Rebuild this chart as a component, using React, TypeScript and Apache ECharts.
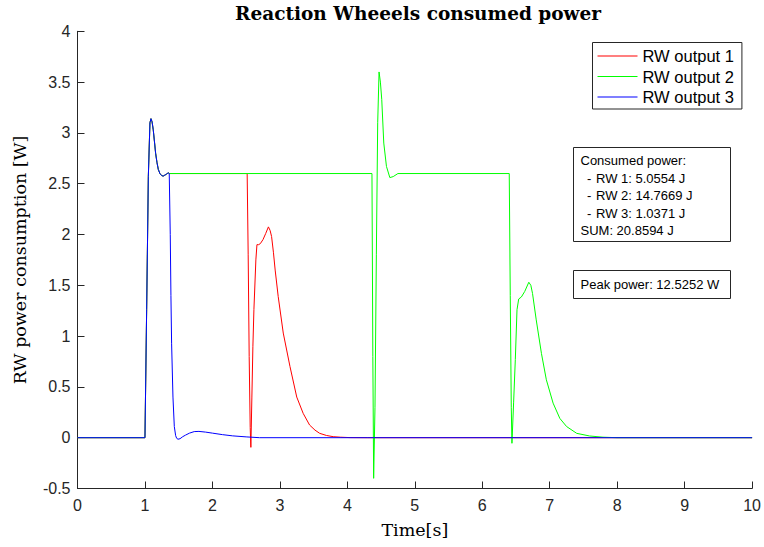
import React, { useEffect, useRef } from "react";
import * as echarts from "echarts";

// Shared start-up transient (all three wheels identical until ~1.36 s)
const startT = [0, 1.0, 1.025, 1.05, 1.074, 1.089, 1.105, 1.123, 1.14, 1.158, 1.178, 1.198, 1.222, 1.247, 1.27, 1.296, 1.32, 1.345, 1.36];
const startP = [0, 0, 1.26, 2.57, 3.1, 3.14, 3.11, 3.03, 2.92, 2.8, 2.71, 2.64, 2.6, 2.58, 2.575, 2.585, 2.595, 2.607, 2.6];

// RW output 1 (red)
const rw1T = [2.515, 2.53, 2.545, 2.56, 2.57, 2.585, 2.6, 2.615, 2.644, 2.66, 2.685, 2.71, 2.75, 2.79, 2.83, 2.855, 2.877, 2.905, 2.93, 2.975, 3.05, 3.15, 3.25, 3.345, 3.44, 3.52, 3.59, 3.69, 3.79, 3.9, 4.04, 4.3, 10];
const rw1P = [2.6, 1.8, 0.8, 0.1, -0.095, 0.4, 0.9, 1.26, 1.75, 1.9, 1.9, 1.91, 1.95, 2.01, 2.075, 2.04, 1.98, 1.82, 1.65, 1.39, 1.03, 0.7, 0.4, 0.24, 0.125, 0.075, 0.043, 0.022, 0.01, 0.005, 0.001, 0, 0];

// RW output 2 (green)
const rw2T = [4.365, 4.378, 4.39, 4.41, 4.43, 4.45, 4.47, 4.49, 4.51, 4.54, 4.58, 4.63, 4.68, 4.75, 6.4, 6.415, 6.43, 6.44, 6.465, 6.49, 6.515, 6.54, 6.58, 6.63, 6.69, 6.72, 6.745, 6.8, 6.877, 6.95, 7.05, 7.15, 7.25, 7.4, 7.59, 7.79, 8.0, 10];
const rw2P = [2.6, 0.8, -0.4, 0.3, 1.8, 3.1, 3.6, 3.5, 3.33, 2.9, 2.67, 2.56, 2.57, 2.6, 2.6, 1.4, 0.3, -0.055, 0.35, 0.77, 1.26, 1.365, 1.385, 1.44, 1.53, 1.5, 1.42, 1.16, 0.83, 0.57, 0.34, 0.19, 0.11, 0.043, 0.017, 0.005, 0, 0];

// RW output 3 (blue)
const rw3T = [1.365, 1.375, 1.385, 1.395, 1.415, 1.435, 1.455, 1.47, 1.49, 1.52, 1.56, 1.6, 1.66, 1.73, 1.8, 1.9, 2.0, 2.15, 2.3, 2.5, 2.7, 10];
const rw3P = [2.6, 2.0, 1.4, 0.93, 0.4, 0.11, 0.02, -0.006, -0.015, -0.01, 0.01, 0.025, 0.045, 0.06, 0.062, 0.055, 0.045, 0.03, 0.018, 0.008, 0, 0];

const seriesNames = ["RW output 1", "RW output 2", "RW output 3"];
const seriesColors = ["#ff0000", "#00ff00", "#0000ff"];

const xTicks = { min: 0, max: 10, interval: 1 };
const yTicks = { min: -0.5, max: 4, interval: 0.5 };

const titleText = "Reaction Wheeels consumed power";
const xLabel = "Time[s]";
const yLabel = "RW power consumption [W]";

const consumedHeader = "Consumed power:";
const consumedLines = ["RW 1: 5.0554 J", "RW 2: 14.7669 J", "RW 3: 1.0371 J"];
const sumLine = "SUM: 20.8594 J";
const peakLine = "Peak power: 12.5252 W";

function zip(t: number[], p: number[]) {
  return t.map((v, i) => [v, p[i]]);
}

export default function App() {
  const ref = useRef<HTMLDivElement>(null);
  useEffect(() => {
    if (!ref.current) return;
    const chart = echarts.init(ref.current, null, { renderer: "svg" });
    const axisColor = "#262626";
    const sans = '"Liberation Sans", Arial, sans-serif';
    const serif = '"DejaVu Serif", serif';
    const start = zip(startT, startP);
    const data = [
      start.concat(zip(rw1T, rw1P)),
      start.concat(zip(rw2T, rw2P)),
      start.concat(zip(rw3T, rw3P)),
    ];
    const boxX = 573.5;
    const textX = 580.5;
    const lineY0 = 160.5;
    const lineStep = 17.5;
    const fs = 13;
    const graphics: any[] = [
      {
        type: "text",
        x: 418,
        y: 13,
        style: { text: titleText, fontFamily: serif, fontWeight: "bold", fontSize: 18.5, fill: "#000", align: "center", verticalAlign: "middle" },
      },
      {
        type: "rect",
        shape: { x: boxX, y: 147.5, width: 157, height: 94 },
        style: { fill: "#fff", stroke: axisColor, lineWidth: 1 },
        z: 10,
      },
      {
        type: "text",
        x: textX,
        y: lineY0,
        z: 11,
        style: { text: consumedHeader, fontFamily: sans, fontSize: fs, fill: "#000", verticalAlign: "middle" },
      },
      ...consumedLines.flatMap((s, i) => [
        {
          type: "text",
          x: 587,
          y: lineY0 + lineStep * (i + 1),
          z: 11,
          style: { text: "-", fontFamily: sans, fontSize: fs, fill: "#000", verticalAlign: "middle" },
        },
        {
          type: "text",
          x: 596,
          y: lineY0 + lineStep * (i + 1),
          z: 11,
          style: { text: s, fontFamily: sans, fontSize: fs, fill: "#000", verticalAlign: "middle" },
        },
      ]),
      {
        type: "text",
        x: textX,
        y: lineY0 + lineStep * 4,
        z: 11,
        style: { text: sumLine, fontFamily: sans, fontSize: fs, fill: "#000", verticalAlign: "middle" },
      },
      {
        type: "rect",
        shape: { x: boxX, y: 270.5, width: 157, height: 28 },
        style: { fill: "#fff", stroke: axisColor, lineWidth: 1 },
        z: 10,
      },
      {
        type: "text",
        x: textX,
        y: 284.5,
        z: 11,
        style: { text: peakLine, fontFamily: sans, fontSize: fs, fill: "#000", verticalAlign: "middle" },
      },
    ];
    chart.setOption({
      animation: false,
      backgroundColor: "#fff",
      grid: { left: 77.5, right: 11.5, top: 31.3, bottom: 58.5, containLabel: false },
      legend: {
        data: seriesNames,
        orient: "vertical",
        left: 592.5,
        top: 42.5,
        padding: [3.5, 8, 2, 5],
        icon: "rect",
        itemWidth: 40,
        itemHeight: 1,
        itemGap: 0.5,
        borderColor: axisColor,
        borderWidth: 1,
        backgroundColor: "#fff",
        selectedMode: false,
        textStyle: { fontFamily: sans, fontSize: 16.5, color: "#000", lineHeight: 20 },
        z: 10,
      },
      xAxis: {
        type: "value",
        min: xTicks.min,
        max: xTicks.max,
        interval: xTicks.interval,
        name: xLabel,
        nameLocation: "middle",
        nameGap: 41.5,
        nameTextStyle: { fontFamily: serif, fontSize: 17.5, color: "#000", verticalAlign: "middle" },
        axisLine: { show: true, onZero: false, lineStyle: { color: axisColor, width: 1 } },
        axisTick: { show: true, inside: true, length: 7, lineStyle: { color: axisColor } },
        axisLabel: { fontFamily: sans, fontSize: 16, color: axisColor, margin: 9 },
        splitLine: { show: false },
      },
      yAxis: {
        type: "value",
        min: yTicks.min,
        max: yTicks.max,
        interval: yTicks.interval,
        name: yLabel,
        nameLocation: "middle",
        nameRotate: 90,
        nameGap: 58,
        nameTextStyle: { fontFamily: serif, fontSize: 17.5, color: "#000", verticalAlign: "middle" },
        axisLine: { show: true, onZero: false, lineStyle: { color: axisColor, width: 1 } },
        axisTick: { show: true, inside: true, length: 7, lineStyle: { color: axisColor } },
        axisLabel: { fontFamily: sans, fontSize: 16, color: axisColor, margin: 7 },
        splitLine: { show: false },
      },
      series: seriesNames.map((name, i) => ({
        name,
        type: "line",
        data: data[i],
        symbol: "none",
        showSymbol: false,
        smooth: false,
        color: seriesColors[i],
        lineStyle: { color: seriesColors[i], width: 1 },
      })),
      graphic: graphics,
    });
    return () => chart.dispose();
  }, []);
  return <div ref={ref} style={{ position: "fixed", left: 0, top: 0, width: 764, height: 547 }} />;
}
